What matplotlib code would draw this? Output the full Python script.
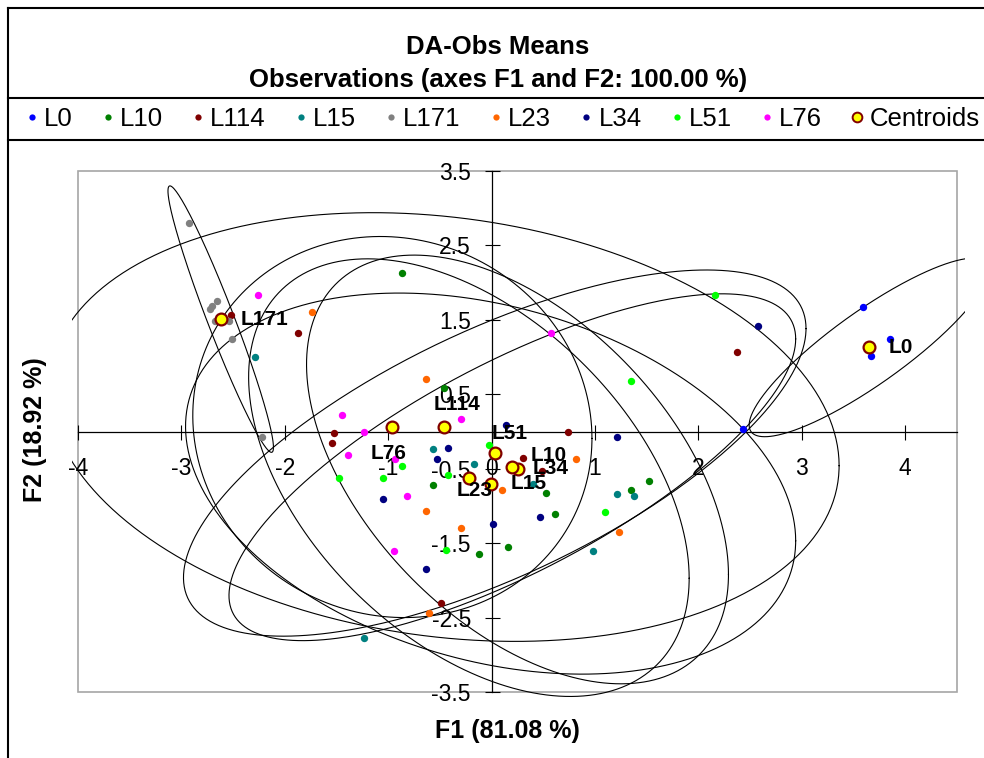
import numpy as np
import matplotlib
matplotlib.use("Agg")
import matplotlib.pyplot as plt
from matplotlib.lines import Line2D
from matplotlib.patches import Rectangle
from matplotlib.transforms import Bbox, TransformedBbox

plt.rcParams['font.family'] = ['Liberation Sans', 'DejaVu Sans']

# groups and their colours
groups = ['L0', 'L10', 'L114', 'L15', 'L171', 'L23', 'L34', 'L51', 'L76']
colors = ['#0000ff', '#008000', '#800000', '#008080', '#808080',
          '#ff6600', '#000080', '#00ff00', '#ff00ff']

# observation scores on F1 / F2
l0_f1 = [3.59, 3.85, 3.67, 2.43]
l0_f2 = [1.67, 1.24, 1.02, 0.03]
l10_f1 = [-0.87, -0.46, -0.57, 0.53, 0.61, 0.16, -0.12, 1.52, 1.35]
l10_f2 = [2.13, 0.58, -0.72, -0.83, -1.11, -1.55, -1.64, -0.67, -0.78]
l114_f1 = [-2.52, -1.87, -1.52, -1.54, 2.37, 0.74, 0.30, 0.49, -0.49]
l114_f2 = [1.57, 1.32, -0.02, -0.16, 1.07, 0.00, -0.35, -0.53, -2.31]
l15_f1 = [-2.29, -0.57, -0.17, 0.40, 1.21, 1.38, 0.98, -1.23]
l15_f2 = [1.00, -0.24, -0.43, -0.70, -0.84, -0.86, -1.61, -2.77]
l171_f1 = [-2.93, -2.66, -2.70, -2.72, -2.68, -2.54, -2.51, -2.22]
l171_f2 = [2.80, 1.75, 1.68, 1.65, 1.48, 1.48, 1.24, -0.08]
l23_f1 = [-1.74, -0.63, 0.82, 0.10, -0.63, -0.30, 1.23, -0.61]
l23_f2 = [1.61, 0.70, -0.37, -0.78, -1.07, -1.29, -1.35, -2.44]
l34_f1 = [2.58, 0.14, 1.21, -0.42, -0.53, -1.05, 0.47, 0.01, -0.63]
l34_f2 = [1.42, 0.09, -0.08, -0.22, -0.37, -0.91, -1.15, -1.24, -1.85]
l51_f1 = [2.16, 1.35, -0.03, -0.87, -1.48, -1.05, -0.42, -0.44, 1.10]
l51_f2 = [1.83, 0.68, -0.18, -0.46, -0.62, -0.62, -0.59, -1.59, -1.08]
l76_f1 = [-2.26, 0.57, -1.45, -0.30, -1.23, -1.39, -0.93, -0.82, -0.94]
l76_f2 = [1.83, 1.32, 0.22, 0.17, 0.00, -0.32, -0.37, -0.86, -1.61]

# class centroids
cen_f1 = [3.65, 0.25, -0.46, -0.01, -2.62, -0.22, 0.20, 0.03, -0.96]
cen_f2 = [1.13, -0.51, 0.06, -0.70, 1.51, -0.62, -0.48, -0.29, 0.06]

# confidence ellipses: half extent on F1, half extent on F2, correlation
ell_sx = [1.16, 2.04, 3.82, 2.95, 0.51, 2.13, 2.74, 3.01, 1.93]
ell_sy = [1.20, 2.88, 2.88, 2.56, 1.79, 2.94, 2.33, 2.46, 2.56]
ell_r = [0.87, -0.49, -0.18, -0.30, -0.962, -0.46, 0.74, 0.68, -0.06]

# label offsets (points) for the centroid names
lab_dx = [14.4, 9.8, -7.2, 14.2, 14.4, -9.0, 14.7, -2.2, -15.8]
lab_dy = [0.0, 10.3, 16.0, 0.0, 0.0, -9.0, -0.9, 14.0, -18.7]

scores = {
    'L0': (l0_f1, l0_f2), 'L10': (l10_f1, l10_f2), 'L114': (l114_f1, l114_f2),
    'L15': (l15_f1, l15_f2), 'L171': (l171_f1, l171_f2), 'L23': (l23_f1, l23_f2),
    'L34': (l34_f1, l34_f2), 'L51': (l51_f1, l51_f2), 'L76': (l76_f1, l76_f2),
}

fig = plt.figure(figsize=(9.84, 7.58), dpi=100)
W, H = 984.0, 758.0
ax = fig.add_axes([78 / W, 1 - 692 / H, (957 - 78) / W, (692 - 171) / H])
ax.set_xlim(-4, 4.5)
ax.set_ylim(-3.5, 3.5)

# ellipses are allowed to run a few pixels past the plot area
clip = TransformedBbox(Bbox([[-4.06, -3.58], [4.58, 3.58]]), ax.transData)
t = np.linspace(0, 2 * np.pi, 400)
for i, g in enumerate(groups):
    r = ell_r[i]
    ex = cen_f1[i] + ell_sx[i] * np.cos(t)
    ey = cen_f2[i] + ell_sy[i] * (r * np.cos(t) + np.sqrt(1 - r * r) * np.sin(t))
    ln, = ax.plot(ex, ey, color='black', lw=0.8, zorder=2)
    ln.set_clip_box(clip)

for i, g in enumerate(groups):
    f1, f2 = scores[g]
    ax.plot(f1, f2, 'o', color=colors[i], ms=5.3, mew=0, zorder=3)

ax.plot(cen_f1, cen_f2, 'o', mfc='#ffff00', mec='#800000', mew=1.6, ms=8.5,
        linestyle='None', zorder=4)
for i, g in enumerate(groups):
    ax.annotate(g, (cen_f1[i], cen_f2[i]), xytext=(lab_dx[i], lab_dy[i]),
                textcoords='offset points', ha='left', va='center',
                fontsize=15, fontweight='bold', zorder=5)

# axes crossing at the origin
for s in ['top', 'right']:
    ax.spines[s].set_visible(False)
ax.spines['left'].set_position(('data', 0))
ax.spines['bottom'].set_position(('data', 0))
ax.spines['left'].set_linewidth(0.9)
ax.spines['bottom'].set_linewidth(0.9)
ax.add_patch(Rectangle((0, 0), 1, 1, transform=ax.transAxes, fill=False,
                       edgecolor='#a6a6a6', lw=1.2, clip_on=False, zorder=1))
ax.set_xticks(np.arange(-4, 5, 1))
ax.set_yticks(np.arange(-3.5, 4, 1))
ax.set_xticklabels([f'{v:g}' for v in np.arange(-4, 5, 1)])
ax.set_yticklabels([f'{v:g}' for v in np.arange(-3.5, 4, 1)])
ax.tick_params(direction='inout', length=10.8, width=0.8, labelsize=16.5)
ax.tick_params(axis='x', pad=13)
ax.tick_params(axis='y', pad=9.5)

fig.text(507 / W, 1 - 731 / H, 'F1 (81.08 %)', ha='center', va='center',
         fontsize=18, fontweight='bold')
fig.text(35 / W, 1 - 430 / H, 'F2 (18.92 %)', ha='center', va='center',
         rotation=90, fontsize=18, fontweight='bold')

fig.text(498 / W, 1 - 47 / H, 'DA-Obs Means', ha='center', va='center',
         fontsize=18.5, fontweight='bold')
fig.text(498 / W, 1 - 80 / H, 'Observations (axes F1 and F2: 100.00 %)',
         ha='center', va='center', fontsize=18.5, fontweight='bold')

handles = [Line2D([], [], marker='o', ls='None', color=c, ms=4.5, mew=0) for c in colors]
handles.append(Line2D([], [], marker='o', ls='None', mfc='#ffff00', mec='#800000',
                      mew=1.4, ms=7))
fig.legend(handles, groups + ['Centroids'], ncol=10, loc='center',
           bbox_to_anchor=(503 / W, 1 - 119 / H), frameon=False, fontsize=18.5,
           handlelength=0.4, handletextpad=0.27, columnspacing=1.17,
           borderpad=0, borderaxespad=0)

# chart frame and legend box
for y in [8, 98, 140]:
    fig.add_artist(Line2D([8 / W, 1], [1 - y / H, 1 - y / H], transform=fig.transFigure,
                          color='black', lw=1.5))
fig.add_artist(Line2D([8 / W, 8 / W], [0, 1 - 8 / H], transform=fig.transFigure,
                      color='black', lw=1.5))

fig.savefig('out.png', dpi=100)
